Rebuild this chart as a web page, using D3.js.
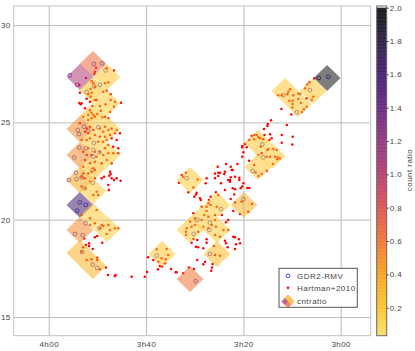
<!DOCTYPE html>
<html>
<head>
<meta charset="utf-8">
<script src="https://cdn.jsdelivr.net/npm/d3@7"></script>
<style>
  html, body { margin: 0; padding: 0; background: #fff; }
  text { font-family: "Liberation Sans", Arial, sans-serif; font-size: 8px; letter-spacing: 0.45px; fill: #444; }
</style>
</head>
<body>
<svg id="chart" width="415" height="351"></svg>
<script>
// tick labels
var raTicks = [60, 55, 50, 45];
var raLabels = ["4h00", "3h40", "3h20", "3h00"];
var decTicks = [30, 25, 20, 15];
var barTicks = [2.0, 1.8, 1.6, 1.4, 1.2, 1.0, 0.8, 0.6, 0.4, 0.2];

// colour bar stops
var stopValues = [0.03, 0.2, 0.4, 0.6, 0.8, 1.0, 1.2, 1.4, 1.6, 1.8, 2.0];
var stopColors = ["#f9dc5a", "#fdc120", "#f99b14", "#ef6d2b", "#d9484a", "#b0336a", "#8a2a7b", "#5d1a7a", "#3a1266", "#1f1238", "#050505"];

// ra, dec, count ratio
var cells = [
  [57.73,28.00,.65],[58.40,27.33,1.05],[57.01,27.33,.18],[57.73,26.66,.22],[57.01,25.99,.16],
  [57.73,25.33,.18],[58.40,24.66,.5],[57.01,24.66,.16],[57.73,23.99,.18],[58.40,23.32,.5],
  [57.01,23.32,.16],[57.73,22.66,.22],[58.40,22.04,.38],[57.73,21.47,.16],[58.40,20.76,1.6],
  [57.73,20.19,.16],[57.01,19.52,.16],[58.40,19.47,.5],[58.40,18.29,.3],[57.73,17.62,.3],
  [52.74,22.04,.16],[54.18,18.24,.18],[52.74,16.95,.6],[51.36,18.24,.26],[51.36,19.47,.16],
  [52.74,19.47,.16],[51.36,20.76,.16],[52.08,20.09,.16],[49.97,20.76,.3],[45.70,27.28,2.0],
  [47.86,26.61,.18],[47.19,25.94,.18],[46.42,26.61,.18],[49.25,23.94,.18],[48.53,23.27,.18],
  [49.25,22.71,.18]
];
var cellHalfRa = 0.69;
var cellHalfDec = 0.665;

// GDR2-RMV
var gdr2 = [
  [57.68,28.00],[57.25,28.03],[57.08,27.67],[58.91,27.42],[58.54,26.93],[58.05,26.56],[57.37,26.93],[57.66,26.85],
  [58.51,24.61],[58.45,24.40],[58.19,24.78],[57.46,24.75],[57.97,24.57],[58.43,23.70],[58.10,23.67],[58.69,23.20],
  [57.68,23.94],[57.71,23.58],[57.40,23.46],[57.71,23.24],[58.60,22.41],[58.57,22.09],[58.96,22.04],[57.76,22.55],
  [58.31,22.18],[57.74,21.90],[58.14,21.61],[58.40,20.89],[58.10,20.76],[58.54,20.46],[58.10,19.82],[57.40,19.56],
  [58.65,19.27],[58.26,19.20],[58.28,18.34],[57.74,17.69],[57.51,17.52],[52.55,19.27],[51.72,19.85],[51.75,19.47],
  [51.72,18.24],[52.45,16.84],[54.45,18.15],[52.91,22.13],[51.15,20.55],[52.37,19.99],[50.00,21.06],[47.95,26.40],
  [46.58,26.66],[47.26,25.52],[49.03,23.87],[48.98,23.20],[49.52,22.50],[46.13,27.28],[45.64,27.34]
];

// Hartman+2010
var hartman = [
  [57.57,27.81],[57.02,27.78],[56.65,27.67],[57.63,27.60],[57.66,27.48],[58.09,27.28],[57.80,27.12],[58.43,26.92],
  [57.71,27.01],[56.94,27.06],[57.11,27.01],[57.63,26.83],[57.85,26.71],[57.20,26.57],[57.02,26.63],[56.82,26.44],
  [58.40,26.52],[57.80,26.52],[57.97,26.44],[57.85,26.32],[58.05,26.21],[57.54,26.15],[57.63,26.15],[58.43,25.99],
  [58.31,25.98],[58.36,25.93],[58.14,25.72],[57.88,26.06],[57.76,25.84],[57.88,25.63],[57.37,25.84],[57.08,25.93],
  [56.82,26.15],[56.60,26.06],[56.29,26.01],[56.65,25.80],[56.85,25.55],[57.33,25.60],[57.97,25.38],[58.23,25.29],
  [57.71,25.38],[57.51,25.43],[57.25,25.26],[57.11,25.29],[56.94,25.21],[57.80,25.21],
  [57.80,25.50],[57.63,25.29],[57.97,25.12],[58.40,24.95],[58.05,24.69],[57.88,24.78],[57.71,24.61],[57.37,24.69],
  [57.11,24.78],[56.94,24.61],[56.77,24.69],[56.51,24.61],[56.34,24.44],[56.60,24.44],[56.85,24.35],[57.20,24.52],
  [57.11,24.26],[57.37,24.26],[57.63,24.35],[57.97,24.44],[58.14,24.52],[58.31,24.09],[58.05,24.09],[57.88,24.18],
  [57.46,24.01],[57.20,24.01],[57.02,24.09],[56.77,24.18],[56.51,24.09],[56.94,23.84],[56.69,23.75],[56.43,23.67],
  [57.11,23.67],[57.37,23.49],[57.63,23.49],[57.97,23.67],[58.23,23.49],[58.05,23.32],[57.80,23.32],[57.54,23.24],
  [57.20,23.32],[56.94,23.41],[56.69,23.41],[56.43,23.41],[57.02,23.07],[57.28,22.90],[57.63,22.98],[57.88,22.90],
  [58.14,23.07],[58.23,22.72],[57.71,22.64],[58.31,22.21],[57.97,22.38],[57.63,22.55],[57.80,22.47],[58.23,22.38],
  [56.77,22.90],[56.85,22.47],[56.82,22.35],[56.89,22.26],[57.28,22.13],[57.16,22.21],[56.77,22.13],[56.51,22.13],
  [56.31,22.00],[56.65,22.04],[56.94,21.78],[56.91,21.53],[57.63,22.13],[58.14,22.13],[57.88,21.95],[58.31,21.70],
  [58.14,21.61],[57.54,21.44],[57.46,21.27],[57.71,21.27],[58.31,20.24],[57.88,20.07],[57.54,20.50],[57.28,19.73],
  [57.63,19.82],[57.88,19.73],[57.37,19.56],[56.94,19.73],[56.60,19.56],
  [57.20,19.68],[56.85,19.47],[57.02,19.27],[56.43,19.56],[57.51,19.16],[57.63,19.10],[57.25,18.82],[58.18,19.04],
  [57.93,18.79],[58.09,18.70],[57.93,18.65],[58.23,18.58],[57.74,18.50],[58.31,18.36],[57.80,17.97],[57.51,18.05],
  [57.51,17.93],[58.05,17.93],[57.37,17.45],[57.06,17.55],[56.96,17.16],[56.61,17.11],[56.56,17.16],[55.74,17.07],
  [55.07,17.07],[54.95,17.31],[54.90,18.07],[54.63,17.93],[54.37,17.84],[54.45,18.48],[53.94,18.50],[53.86,18.19],
  [54.20,18.02],[53.98,17.97],[54.03,17.76],[54.29,17.62],[54.17,17.59],[54.39,17.45],[53.72,17.47],[53.48,17.30],
  [53.43,17.30],[53.09,17.25],[52.80,17.55],[52.54,17.47],[52.37,17.93],[52.44,18.61],[52.32,18.58],[52.06,18.53],
  [52.66,18.82],[52.37,18.96],[51.89,18.99],[51.89,18.82],[51.97,17.84],[52.06,17.71],[51.58,17.72],[51.61,17.55],
  [51.65,17.38],
  [50.00,23.46],[49.71,23.03],[50.31,22.86],[50.65,22.72],[50.89,22.86],[51.32,22.72],[51.46,22.38],[51.29,22.41],
  [51.20,22.41],[50.95,22.47],[50.98,22.35],[50.60,22.55],[50.55,22.55],[50.65,22.18],[50.43,22.21],[50.21,22.16],
  [50.78,22.04],[50.69,22.04],[50.69,21.95],[50.21,22.04],[51.15,21.87],[51.29,22.24],[51.46,22.13],[51.89,22.13],
  [51.94,21.87],[50.00,21.87],[50.95,21.53],[50.55,21.61],[50.43,21.56],[50.14,21.61],[50.47,21.30],[51.29,21.27],
  [51.41,21.41],[51.68,21.18],[50.65,21.06],[50.43,20.89],[52.23,21.10],[52.19,21.01],[52.40,21.39],[52.44,21.30],
  [52.52,21.18],[52.83,21.41],[52.57,21.66],[53.09,22.21],[53.17,22.30],[52.95,22.41],[53.31,21.90],[52.35,22.07],
  [50.17,20.29],[49.56,20.81],[49.75,20.41],[50.52,20.45],[50.09,20.92],
  [51.80,20.84],[51.68,20.76],[51.89,20.67],[51.77,21.01],[52.14,20.67],[51.37,20.67],[51.89,20.45],[52.57,20.33],
  [52.01,20.24],[51.80,20.15],[51.46,20.24],[51.11,20.24],[51.46,19.99],[52.14,19.99],[52.49,20.07],[52.74,19.90],
  [52.49,19.73],[52.66,19.64],[52.91,19.56],[52.95,19.38],[52.95,19.21],[52.32,19.38],[52.06,19.64],[51.80,19.56],
  [51.63,19.73],[51.41,19.64],[51.46,19.21],[51.20,19.13],[50.78,19.47],[50.89,19.87],[50.78,19.99],[51.03,19.47],
  [52.57,19.01],[50.95,18.92],[50.89,18.79],[50.52,19.13],[50.43,19.10],[50.23,18.99],[50.17,18.79],[50.38,18.74],
  [50.43,18.50],[50.81,18.58],[51.51,18.65],[51.20,18.15],[51.46,18.19],
  [46.37,27.26],[46.61,27.06],[46.72,26.95],[46.83,26.75],[47.60,26.70],[47.69,26.57],[47.74,26.44],[48.03,26.40],
  [48.21,26.40],[47.44,26.40],[47.18,26.49],[47.09,26.46],[46.75,26.24],[46.41,26.32],[46.49,26.15],[47.64,26.11],
  [47.47,26.11],[47.18,26.20],[47.05,26.01],[47.47,25.94],[47.49,25.77],[46.75,25.80],[46.89,25.67],[47.00,25.53],
  [48.05,25.69],[47.54,25.41],[48.58,25.11],[48.74,24.92],[48.77,24.81],[48.94,24.66],[48.63,24.39],[47.77,24.86],
  [47.47,24.26],[48.03,24.35],[48.03,23.95],[47.49,23.87],[48.92,24.35],[49.32,24.35],[49.45,24.35],[49.57,24.30],
  [49.70,24.09],[49.45,24.13],[49.23,24.23],[49.15,24.18],[48.98,24.13],[48.67,24.09],[48.55,24.18],[49.92,23.89],
  [50.06,23.79],[50.06,23.72],[49.83,23.72],[49.11,23.75],[48.72,23.63],[48.46,23.63],[48.29,23.58],[48.77,23.58],
  [49.23,23.32],[49.06,23.41],[48.80,23.24],[48.63,23.24],[48.38,23.24],[48.24,23.20],[48.12,23.15],[48.26,23.10],
  [48.49,22.86],[49.45,22.81],[50.06,23.24],[48.80,22.52],[49.06,22.35],[49.23,22.24],[49.37,22.43],[50.06,21.70],
  [49.80,21.63],[49.70,21.63]
];

var legendLabels = ["GDR2-RMV", "Hartman+2010", "cntratio"];

var svg = d3.select("#chart");
var x = d3.scaleLinear().domain([61.8, 43.46]).range([13.7, 370.7]);
var y = d3.scaleLinear().domain([30.98, 14.04]).range([6, 335.7]);
var bar = d3.scaleLinear().domain([2.01, 0.032]).range([6, 335.7]);
var color = d3.scaleLinear().domain(stopValues).range(stopColors).clamp(true);
var cell_alpha = 0.52;

// axes double as the grid
var xAxis = svg.append("g").attr("transform", "translate(0,335.7)")
  .call(d3.axisBottom(x).tickValues(raTicks).tickFormat(function(d, i) { return raLabels[i]; }).tickSize(-329.7).tickPadding(6));
var yAxis = svg.append("g").attr("transform", "translate(13.7,0)")
  .call(d3.axisLeft(y).tickValues(decTicks).tickSize(-357).tickPadding(3));
[xAxis, yAxis].forEach(function(a) {
  a.select(".domain").remove();
  a.selectAll("line").attr("stroke", "#bcbcbc");
  a.selectAll("text").attr("fill", "#444");
});

svg.append("g").selectAll("circle").data(gdr2).enter().append("circle")
  .attr("cx", function(d) { return x(d[0]); })
  .attr("cy", function(d) { return y(d[1]); })
  .attr("r", 1.9)
  .attr("fill", "none")
  .attr("stroke", "#3a30c8")
  .attr("stroke-width", 0.8);

svg.append("g").selectAll("circle").data(hartman).enter().append("circle")
  .attr("cx", function(d) { return x(d[0]); })
  .attr("cy", function(d) { return y(d[1]); })
  .attr("r", 1.25)
  .attr("fill", "#f00");

// diamonds go over the points, that's why the points look orange inside them
function diamond(d) {
  return "M" + x(d[0]) + "," + y(d[1] + cellHalfDec) +
    "L" + x(d[0] - cellHalfRa) + "," + y(d[1]) +
    "L" + x(d[0]) + "," + y(d[1] - cellHalfDec) +
    "L" + x(d[0] + cellHalfRa) + "," + y(d[1]) + "Z";
}
svg.append("g").selectAll("path").data(cells).enter().append("path")
  .attr("d", diamond)
  .attr("fill", function(d) { return color(d[2]); })
  .attr("fill-opacity", cell_alpha);

// frame
svg.append("rect")
  .attr("x", x.range()[0]).attr("y", y.range()[0])
  .attr("width", x.range()[1] - x.range()[0])
  .attr("height", y.range()[1] - y.range()[0])
  .attr("fill", "none")
  .attr("stroke", "#c4c4c4");

// legend
var lg = svg.append("g").attr("transform", "translate(279,268.3)");
lg.append("rect").attr("width", 78.3).attr("height", 39).attr("fill", "#fff").attr("stroke", "#555");
lg.append("circle").attr("cx", 9).attr("cy", 7.5).attr("r", 1.9).attr("fill", "none").attr("stroke", "#3a30c8").attr("stroke-width", 0.9);
lg.append("circle").attr("cx", 9).attr("cy", 19.4).attr("r", 1.25).attr("fill", "#f00");
var swatch = [[0, -3.5, 0.3], [-3.2, 0, 1.05], [3.2, 0, 0.3], [0, 3.2, 0.65]];
lg.selectAll(".sw").data(swatch).enter().append("path")
  .attr("class", "sw")
  .attr("transform", function(d) { return "translate(" + (9 + d[0]) + "," + (33.2 + d[1]) + ")"; })
  .attr("d", "M0,-3.4L3.4,0L0,3.4L-3.4,0Z")
  .attr("fill", function(d) { return color(d[2]); })
  .attr("fill-opacity", 0.75);
lg.selectAll("text").data(legendLabels).enter().append("text")
  .attr("x", 18)
  .attr("y", function(d, i) { return 10.5 + i * 12.5; })
  .text(function(d) { return d; });

// colour bar, overlapping strips give the banding
var levels = d3.range(0.04, 2.0, 0.02);
svg.append("g").selectAll("rect").data(levels).enter().append("rect")
  .attr("x", 376.7)
  .attr("width", 10)
  .attr("y", function(d) { return bar(d + 0.02); })
  .attr("height", function(d) { return bar(d) - bar(d + 0.02) + 0.6; })
  .attr("fill", function(d) { return color(d); })
  .attr("fill-opacity", 0.88);
svg.append("rect")
  .attr("x", 376.7).attr("y", 6).attr("width", 10).attr("height", 329.7)
  .attr("fill", "none").attr("stroke", "#666");

var barAxis = svg.append("g").attr("transform", "translate(386.7,0)")
  .call(d3.axisRight(bar).tickValues(barTicks).tickFormat(d3.format(".1f")).tickSize(2).tickPadding(1));
barAxis.select(".domain").remove();
barAxis.selectAll("line").attr("stroke", "#444");

svg.append("text")
  .attr("transform", "translate(412,170) rotate(-90)")
  .attr("text-anchor", "middle")
  .text("count ratio");
</script>
</body>
</html>
